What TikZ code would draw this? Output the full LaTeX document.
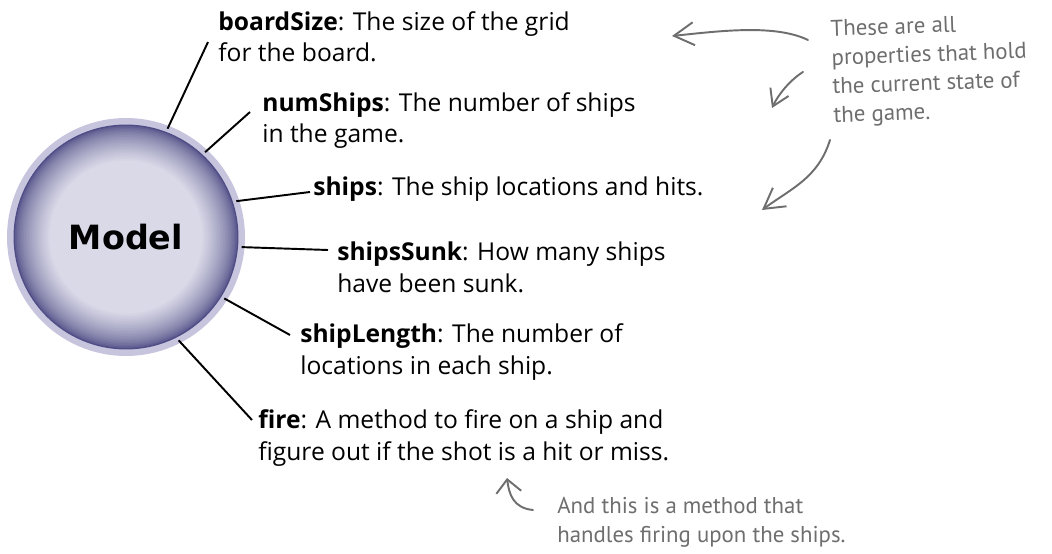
\documentclass[tikz,border=0pt]{standalone}
\usepackage{fontspec}
\setmainfont{Open Sans}
\newfontfamily\handfont{PT Sans}
\newfontfamily\ballfont{DejaVu Sans}
\usepackage{xcolor}
\usepackage{tikz}
\usetikzlibrary{arrows.meta, positioning}

\definecolor{ballin}{HTML}{D9D9E8}
\definecolor{ballrim}{HTML}{4F4D85}
\definecolor{ballhalo}{HTML}{C7C5DE}
\definecolor{notegray}{HTML}{6E6E6E}

\begin{document}
\begin{tikzpicture}[
  x=0.02cm, y=-0.02cm,
  >={Straight Barb[length=4mm, width=4.6mm]},
  ball/.style={circle, minimum size=4.5cm, inner sep=0pt, outer sep=2pt, font=\ballfont\bfseries\fontsize{19}{20}\selectfont},
  prop/.style={anchor=base west, inner sep=0pt, align=left, font=\fontsize{14}{17.8}\selectfont},
  leader/.style={draw=black, line width=1.1pt},
  note/.style={inner sep=0pt, align=left, text=notegray, font=\handfont\fontsize{13}{16.4}\selectfont},
  hand/.style={draw=notegray, line width=1.1pt, ->, line cap=round}
]
  \useasboundingbox (0,0) rectangle (1052,554);

  \coordinate (c) at (126,237);
  \fill[ballhalo] (c) circle (2.38cm);
  \foreach \k in {0,...,24} {
    \pgfmathsetmacro\mix{100*(\k/24)^0.65}
    \fill[ballin!\mix!ballrim] (c) circle ({2.25cm-\k*0.03cm});
  }
  \node[ball] (model) at (c) {Model};

  \node[prop] (boardsize) at (218,62) {\textbf{boardSize}: The size of the grid\\for the board.};
  \node[prop] (numships) at (262,143) {\textbf{numShips}: The number of ships\\in the game.};
  \node[prop] (ships) at (313,195) {\textbf{ships}: The ship locations and hits.};
  \node[prop] (shipssunk) at (337,292) {\textbf{shipsSunk}: How many ships\\have been sunk.};
  \node[prop] (shiplength) at (300,374) {\textbf{shipLength}: The number of\\locations in each ship.};
  \node[prop] (fire) at (258,460) {\textbf{fire}: A method to fire on a ship and\\figure out if the shot is a hit or miss.};

  \coordinate (boardsize-end) at (208,42);
  \coordinate (numships-end) at (250,112);
  \coordinate (ships-end) at (310,192);
  \coordinate (shipssunk-end) at (328,250);
  \coordinate (shiplength-end) at (290,335);
  \coordinate (fire-end) at (252,420);

  \draw[leader] (model.69) -- (boardsize-end);
  \draw[leader] (model.47) -- (numships-end);
  \draw[leader] (model.18) -- (ships-end);
  \draw[leader] (model.-5) -- (shipssunk-end);
  \draw[leader] (model.-32) -- (shiplength-end);
  \draw[leader] (model.-63) -- (fire-end);

  \node[note, anchor=north west, rotate=2] (statenote) at (830,20) {These are all\\properties that hold\\the current state of\\the game.};
  \node[note, anchor=base west] (firenote) at (557,542) {And this is a method that\\handles firing upon the ships.};

  \coordinate (up-tail) at (808,40);
  \coordinate (up-tip) at (672,36);
  \coordinate (mid-tail) at (803,72);
  \coordinate (mid-tip) at (772,108);
  \coordinate (low-tail) at (830,140);
  \coordinate (low-tip) at (762,210);
  \coordinate (fire-tail) at (533,510);
  \coordinate (fire-tip) at (507,478);

  \draw[hand] (up-tail) .. controls (775,24) and (720,31) .. (up-tip);
  \draw[hand, >={Straight Barb[length=3.2mm, width=4mm]}] (mid-tail) .. controls (790,80) and (778,95) .. (mid-tip);
  \draw[hand] (low-tail) .. controls (818,178) and (792,188) .. (low-tip);
  \draw[hand, >={Straight Barb[length=2.6mm, width=5mm]}] (fire-tail) .. controls (513,508) and (509,494) .. (fire-tip);
\end{tikzpicture}
\end{document}
